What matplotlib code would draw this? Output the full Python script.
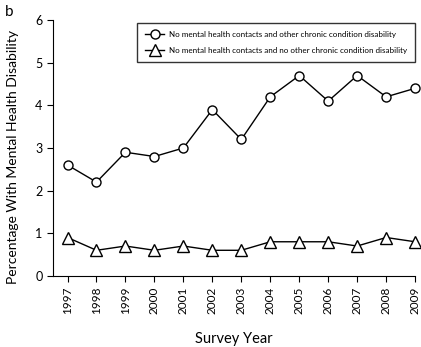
import matplotlib.pyplot as plt

plt.rcParams['font.family'] = ['Lato', 'DejaVu Sans']

years = [1997, 1998, 1999, 2000, 2001, 2002, 2003, 2004, 2005, 2006, 2007, 2008, 2009]
other_chronic = [2.6, 2.2, 2.9, 2.8, 3.0, 3.9, 3.2, 4.2, 4.7, 4.1, 4.7, 4.2, 4.4]
no_other_chronic = [0.9, 0.6, 0.7, 0.6, 0.7, 0.6, 0.6, 0.8, 0.8, 0.8, 0.7, 0.9, 0.8]
labels = ["No mental health contacts and other chronic condition disability",
          "No mental health contacts and no other chronic condition disability"]

fig = plt.figure(figsize=(4.21, 3.47), dpi=100)
ax = fig.add_axes([0.126, 0.205, 0.86, 0.737])

ax.plot(years, other_chronic, color='black', lw=1, marker='o', ms=6.5,
        mfc='white', mec='black', mew=1, label=labels[0], clip_on=False, zorder=3)
ax.plot(years, no_other_chronic, color='black', lw=1, marker='^', ms=8,
        mfc='white', mec='black', mew=1, label=labels[1], clip_on=False, zorder=3)

ax.set_xlim(1996.5, 2009.0)
ax.set_ylim(0, 6)
ax.set_xticks(years)
ax.set_xticklabels([str(y) for y in years], rotation=90, fontsize=8.5)
ax.set_yticks(range(0, 7))
ax.tick_params(axis='y', labelsize=9, length=4, width=0.8)
ax.tick_params(axis='x', length=4, width=0.8)
for s in ['top', 'right']:
    ax.spines[s].set_visible(False)
ax.spines['left'].set_linewidth(0.8)
ax.spines['bottom'].set_linewidth(0.8)

ax.set_xlabel("Survey Year", fontsize=10.5, labelpad=13)
ax.set_ylabel("Percentage With Mental Health Disability", fontsize=10)
ax.yaxis.set_label_coords(-0.095, 0.465)

leg = ax.legend(loc='upper right', bbox_to_anchor=(1.01, 1.005), fontsize=5.8,
                frameon=True, fancybox=False, edgecolor='black',
                borderpad=1.0, handlelength=2.4, handletextpad=0.5, labelspacing=1.1)
leg.get_frame().set_linewidth(1)

fig.text(0.012, 0.985, "b", fontsize=11, va='top')

fig.savefig("out.png", dpi=100)
